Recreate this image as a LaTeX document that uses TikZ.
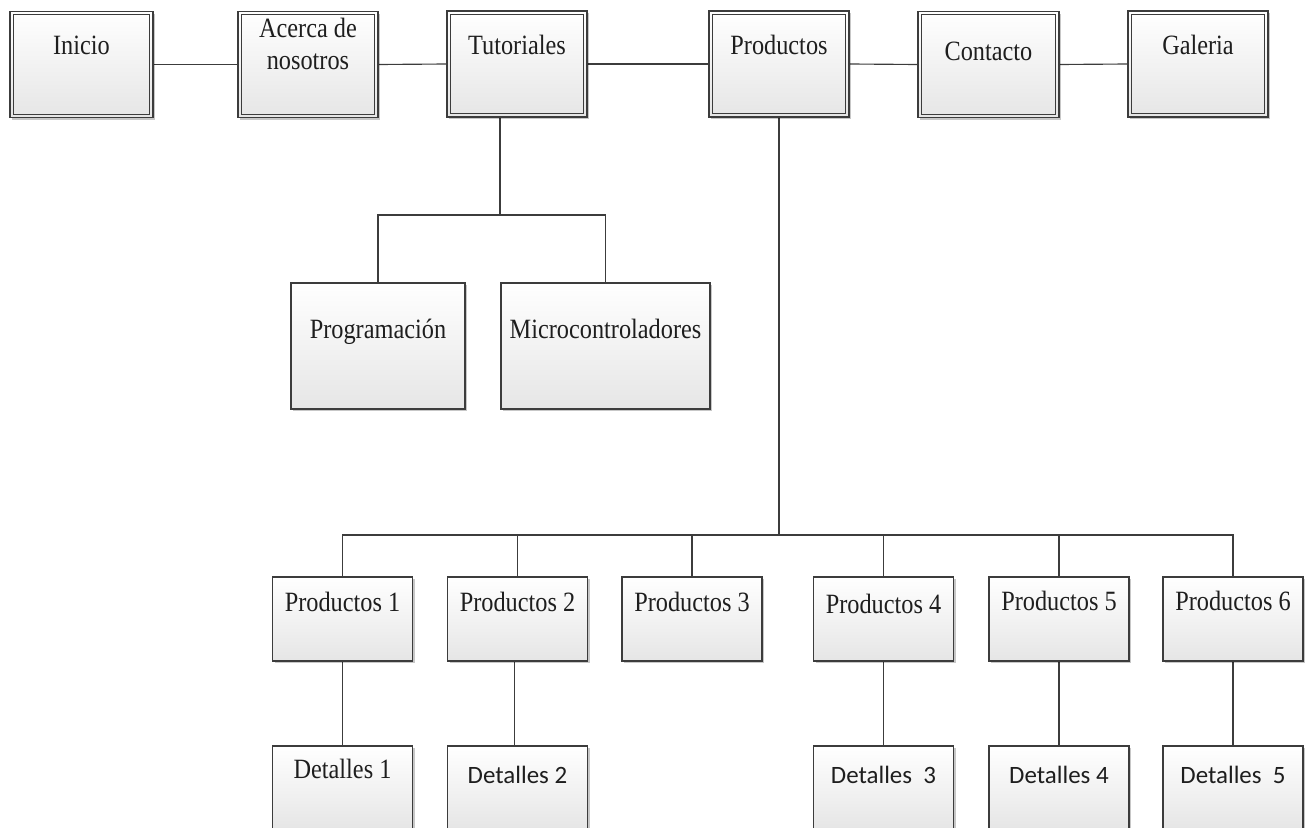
\documentclass[tikz,border=0pt]{standalone}
\usepackage{fontspec}
\newfontfamily\tnr[FakeStretch=0.87]{Liberation Serif}
\newfontfamily\calb{Carlito}
\usetikzlibrary{shadows,backgrounds}
\definecolor{ln}{HTML}{3C3C3C}
\definecolor{tx}{HTML}{1E1E1E}
\tikzset{
  boxbase/.style={draw=ln, line width=0.6pt, inner sep=0pt, top color=white, bottom color=black!10,
    drop shadow={shadow xshift=1.3pt, shadow yshift=-1.3pt, fill=black, opacity=0.22}},
  topbox/.style={boxbase, minimum width=2.8cm, minimum height=2.12cm},
  inner/.style={draw=ln, line width=0.6pt},
  subbox/.style={boxbase, minimum height=2.52cm},
  pbox/.style={boxbase, minimum width=2.8cm, minimum height=1.68cm},
  conn/.style={draw=ln, line width=0.65pt},
  txt/.style={inner sep=0pt, anchor=base, text=tx, font={\tnr\fontsize{15.9pt}{18.7pt}\selectfont}},
  stxt/.style={inner sep=0pt, anchor=base, text=tx, font={\calb\fontsize{14.2pt}{17pt}\selectfont}}
}
\newcommand\innerframe[1]{\draw[inner] ([xshift=0.075cm,yshift=0.075cm]#1.south west) rectangle ([xshift=-0.075cm,yshift=-0.075cm]#1.north east);}
\begin{document}
\begin{tikzpicture}[x=0.02cm, y=-0.02cm]
\useasboundingbox (0,0) rectangle (1313,828);
\clip (0,0) rectangle (1313,828);
% top row
\node[topbox, minimum width=2.86cm] (inicio) at (81.5,64.5) {};
\node[topbox] (acerca) at (308,64.5) {};
\node[topbox] (tut) at (517,64) {};
\node[topbox] (prod) at (779,64) {};
\node[topbox, minimum width=2.82cm] (cont) at (988.5,64.5) {};
\node[topbox] (gal) at (1198,64) {};
\innerframe{inicio}
\innerframe{acerca}
\innerframe{tut}
\innerframe{prod}
\innerframe{cont}
\innerframe{gal}
% tutorial children
\node[subbox, minimum width=3.48cm] (prog) at (378,346) {};
\node[subbox, minimum width=4.18cm] (micro) at (605.5,346) {};
% productos children
\node[pbox] (p1) at (342.5,619) {};
\node[pbox] (p2) at (517.5,619) {};
\node[pbox] (p3) at (692,619) {};
\node[pbox] (p4) at (883.5,619) {};
\node[pbox] (p5) at (1059,619) {};
\node[pbox] (p6) at (1233,619) {};
% detalles
\node[pbox] (d1) at (342.5,788) {};
\node[pbox] (d2) at (517.5,788) {};
\node[pbox] (d3) at (883.5,788) {};
\node[pbox] (d4) at (1059,788) {};
\node[pbox] (d5) at (1233,788) {};
% texts
\node[txt] (tinicio) at (81.5,55) {Inicio};
\node[txt, align=center] (tacerca) at (308,70) {Acerca de\\nosotros};
\node[txt] (ttut) at (517,55) {Tutoriales};
\node[txt] (tprod) at (779,55) {Productos};
\node[txt] (tcont) at (988.5,61) {Contacto};
\node[txt] (tgal) at (1198,55) {Galeria};
\node[txt] (tprog) at (378,338) {Programación};
\node[txt] (tmicro) at (605.5,338) {Microcontroladores};
\node[txt] (tp1) at (342.5,611) {Productos 1};
\node[txt] (tp2) at (517.5,611) {Productos 2};
\node[txt] (tp3) at (692,611) {Productos 3};
\node[txt] (tp4) at (883.5,613) {Productos 4};
\node[txt] (tp5) at (1059,610) {Productos 5};
\node[txt] (tp6) at (1233,610) {Productos 6};
\node[txt] (td1) at (342.5,778) {Detalles 1};
\node[stxt] (td2) at (517.5,783) {Detalles 2};
\node[stxt] (td3) at (883.5,783) {Detalles\ \ 3};
\node[stxt] (td4) at (1059,783) {Detalles 4};
\node[stxt] (td5) at (1233,783) {Detalles\ \ 5};
% junctions
\coordinate (tj) at (500,215);
\coordinate (pj) at (779,535);
\begin{scope}[on background layer]
\draw[conn] (inicio.east) -- (acerca.west);
\draw[conn] (acerca.east) -- (tut.west);
\draw[conn] (tut.east) -- (prod.west);
\draw[conn] (prod.east) -- (cont.west);
\draw[conn] (cont.east) -- (gal.west);
\draw[conn] (tut.south -| tj) -- (tj);
\draw[conn] (prog.north) |- (tj) -| (micro.north);
\draw[conn] (prod.south) -- (pj);
\draw[conn] (p1.north) |- (pj) -| (p6.north);
\draw[conn] (p2.north) -- (p2.north |- pj);
\draw[conn] (p3.north) -- (p3.north |- pj);
\draw[conn] (p4.north) -- (p4.north |- pj);
\draw[conn] (p5.north) -- (p5.north |- pj);
\draw[conn] (p1.south) -- (d1.north);
\draw[conn] ([xshift=-0.06cm]p2.south) -- ([xshift=-0.06cm]d2.north);
\draw[conn] (p4.south) -- (d3.north);
\draw[conn] (p5.south) -- (d4.north);
\draw[conn] (p6.south) -- (d5.north);
\end{scope}
\end{tikzpicture}
\end{document}
